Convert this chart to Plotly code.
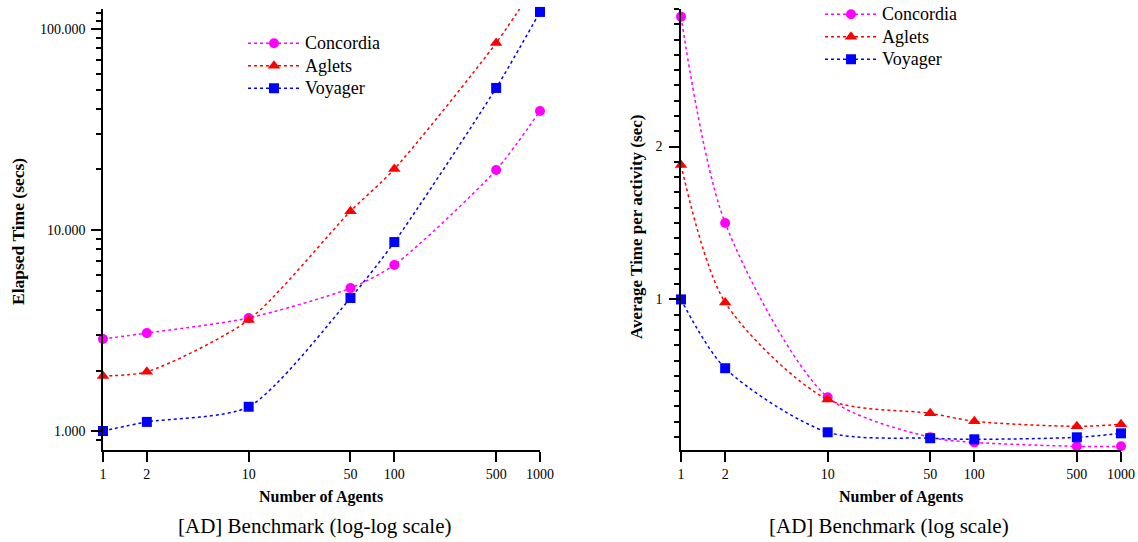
import plotly.graph_objects as go

agents = [1, 2, 10, 50, 100, 500, 1000]
x_ticks = [1, 2, 10, 50, 100, 500, 1000]
x_tick_labels = ["1", "2", "10", "50", "100", "500", "1000"]

# Left: elapsed time (secs)
elapsed_concordia = [2.87, 3.07, 3.65, 5.14, 6.70, 19.9, 39.1]
elapsed_aglets = [1.88, 1.97, 3.57, 12.4, 20.1, 85.2, 180.0]
elapsed_voyager = [1.0, 1.11, 1.32, 4.59, 8.71, 50.9, 121.6]

# Right: average time per activity (sec)
avg_concordia = [2.85, 1.50, 0.36, 0.098, 0.065, 0.039, 0.039]
avg_aglets = [1.88, 0.98, 0.346, 0.255, 0.203, 0.17, 0.183]
avg_voyager = [1.0, 0.55, 0.131, 0.092, 0.085, 0.098, 0.124]

left_y_ticks = [1, 10, 100]
left_y_tick_labels = ["1.000", "10.000", "100.000"]
right_y_ticks = [1, 2]
right_y_tick_labels = ["1", "2"]

names = ["Concordia", "Aglets", "Voyager"]
colors = ["#ff00ff", "#ff0000", "#0000ff"]
symbols = ["circle", "triangle-up", "square"]

FONT = "Liberation Serif"
W, H = 1138, 542

fig = go.Figure()

left_series = [elapsed_concordia, elapsed_aglets, elapsed_voyager]
right_series = [avg_concordia, avg_aglets, avg_voyager]


def legend_name(n):
    return '<span style="font-size:18px">' + n + "</span>"


for name, col, sym, ys in zip(names, colors, symbols, left_series):
    fig.add_trace(go.Scatter(
        x=agents, y=ys, name=legend_name(name), mode="lines+markers",
        line=dict(color=col, width=1.5, dash="dot", shape="spline", smoothing=0.7),
        marker=dict(color=col, symbol=sym, size=10 if sym != "triangle-up" else 11),
        xaxis="x", yaxis="y", legend="legend", cliponaxis=False,
    ))

for name, col, sym, ys in zip(names, colors, symbols, right_series):
    fig.add_trace(go.Scatter(
        x=agents, y=ys, name=legend_name(name), mode="lines+markers",
        line=dict(color=col, width=1.5, dash="dot", shape="spline", smoothing=0.8),
        marker=dict(color=col, symbol=sym, size=10 if sym != "triangle-up" else 11),
        xaxis="x2", yaxis="y2", legend="legend2", cliponaxis=False,
    ))

left_minor = [0.9] + [v * m for m in (1, 10) for v in range(2, 10)] + [110, 120]
right_minor = [round(0.1 * i, 1) for i in range(1, 30) if i % 10 != 0]

TICKFONT = dict(family=FONT, size=14, color="black")

common_x = dict(
    type="log", range=[0, 3], tickmode="array", tickvals=x_ticks, ticktext=x_tick_labels,
    showline=True, linecolor="black", linewidth=1.5, ticks="outside", ticklen=10,
    tickwidth=1.5, tickcolor="black", showgrid=False, zeroline=False, automargin=False,
    tickfont=TICKFONT,
)

# plot area in figure pixels (figure drawn from the page's top-left corner)
PL, PR, PT, PB = 103, 1121, 9, 450
PW, PH = PR - PL, PB - PT


def px(xp):
    return (xp - PL) / PW


def py(yp):
    return (PB - yp) / PH


fig.update_layout(
    width=W, height=H,
    margin=dict(l=PL, r=W - PR, t=PT, b=H - PB, autoexpand=False),
    paper_bgcolor="white", plot_bgcolor="white",
    font=dict(family=FONT, color="black"),
    xaxis=dict(domain=[0, px(540)], anchor="y", **common_x),
    xaxis2=dict(domain=[px(681), 1], anchor="y2", **common_x),
    yaxis=dict(
        type="log", range=[-0.0945, 2.0995], tickmode="array",
        tickvals=left_y_ticks, ticktext=left_y_tick_labels,
        showline=True, linecolor="black", linewidth=1.5, ticks="outside", ticklen=10,
        tickwidth=1.5, tickcolor="black", showgrid=False, zeroline=False, automargin=False,
        tickfont=TICKFONT, ticklabelstandoff=3,
        minor=dict(tickmode="array", tickvals=left_minor, ticks="outside", ticklen=5,
                   tickwidth=1.5, tickcolor="black", showgrid=False),
        anchor="x",
    ),
    yaxis2=dict(
        range=[0.015, 2.9], tickmode="array",
        tickvals=right_y_ticks, ticktext=right_y_tick_labels,
        showline=True, linecolor="black", linewidth=1.5, ticks="outside", ticklen=10,
        tickwidth=1.5, tickcolor="black", showgrid=False, zeroline=False, automargin=False,
        tickfont=TICKFONT, ticklabelstandoff=4,
        minor=dict(tickmode="array", tickvals=right_minor, ticks="outside", ticklen=5,
                   tickwidth=1.5, tickcolor="black", showgrid=False),
        anchor="x2",
    ),
    legend=dict(x=px(243), y=py(27), xanchor="left", yanchor="top", bgcolor="rgba(0,0,0,0)",
                font=dict(family=FONT, size=15, color="black"), itemwidth=52,
                tracegroupgap=0),
    legend2=dict(x=px(820), y=py(-2), xanchor="left", yanchor="top", bgcolor="rgba(0,0,0,0)",
                 font=dict(family=FONT, size=15, color="black"), itemwidth=52,
                 tracegroupgap=0),
    annotations=[
        dict(text="<b>Number of Agents</b>", x=px(321), y=py(497), xref="paper", yref="paper",
             showarrow=False, font=dict(family=FONT, size=16), xanchor="center", yanchor="middle"),
        dict(text="<b>Number of Agents</b>", x=px(901), y=py(497), xref="paper", yref="paper",
             showarrow=False, font=dict(family=FONT, size=16), xanchor="center", yanchor="middle"),
        dict(text="[AD] Benchmark (log-log scale)", x=px(314), y=py(526), xref="paper", yref="paper",
             showarrow=False, font=dict(family=FONT, size=21), xanchor="center", yanchor="middle"),
        dict(text="[AD] Benchmark (log scale)", x=px(889), y=py(526), xref="paper", yref="paper",
             showarrow=False, font=dict(family=FONT, size=21), xanchor="center", yanchor="middle"),
        dict(text="<b>Elapsed Time (secs)</b>", x=px(18), y=py(232),
             xref="paper", yref="paper", showarrow=False, textangle=-90,
             font=dict(family=FONT, size=17.5), xanchor="center", yanchor="middle"),
        dict(text="<b>Average Time per activity (sec)</b>", x=px(637), y=py(227),
             xref="paper", yref="paper", showarrow=False, textangle=-90,
             font=dict(family=FONT, size=17), xanchor="center", yanchor="middle"),
    ],
    showlegend=True,
)

fig.write_html(
    "out.html",
    config={"displayModeBar": False},
    post_script="document.body.style.margin='0';document.body.style.overflow='hidden';",
)
